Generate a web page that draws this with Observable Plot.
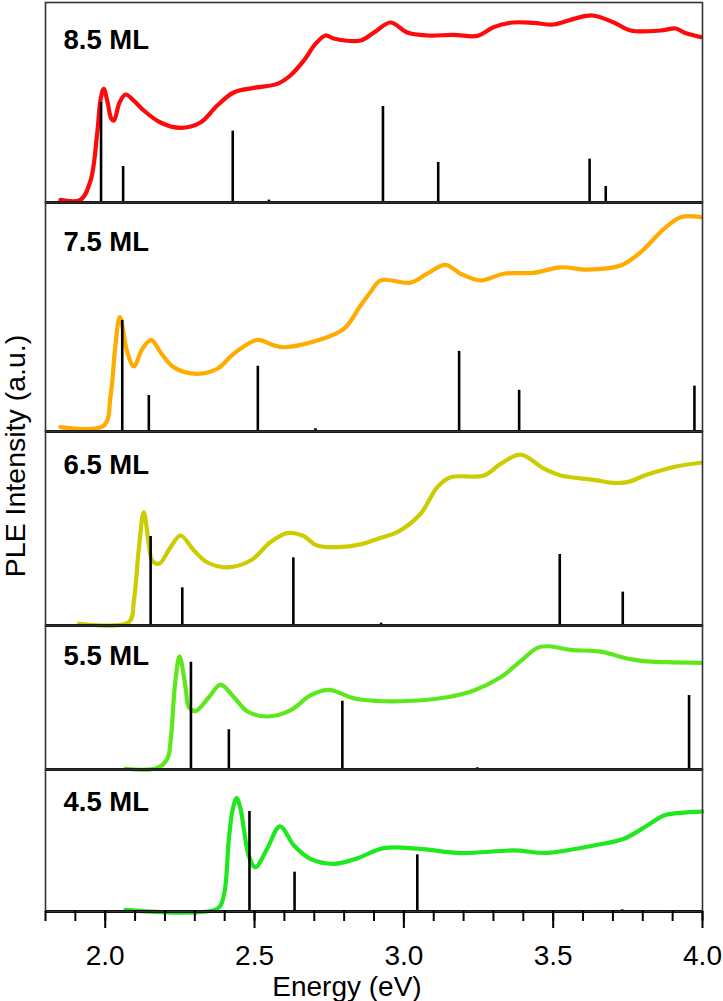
<!DOCTYPE html>
<html><head><meta charset="utf-8">
<script src="https://cdn.jsdelivr.net/npm/d3@7"></script>
<script src="https://cdn.jsdelivr.net/npm/@observablehq/plot@0.6"></script>
<style>
body{margin:0;background:#fff;}
#chart{position:relative;width:723px;height:1001px;overflow:hidden;}
#chart > svg, #chart > figure{display:block;margin:0;}
#ylab{position:absolute;left:0;top:0;pointer-events:none;}
</style></head><body>
<div id="chart"></div>
<script>
// ---------- data (energy in eV, intensity in a.u., normalised per panel) ----------
const panelLabels = ["8.5 ML", "7.5 ML", "6.5 ML", "5.5 ML", "4.5 ML"];

const ple85 = [[1.85,0.013],[1.917,0.013],[1.951,0.11],[1.973,0.345],[1.985,0.52],[1.995,0.568],[2.008,0.50],[2.02,0.42],[2.029,0.41],[2.048,0.50],[2.068,0.54],[2.095,0.51],[2.129,0.46],[2.185,0.40],[2.252,0.373],[2.319,0.40],[2.375,0.485],[2.43,0.55],[2.497,0.573],[2.576,0.593],[2.62,0.635],[2.665,0.71],[2.704,0.793],[2.738,0.835],[2.765,0.82],[2.855,0.81],[2.9,0.85],[2.955,0.90],[3.011,0.85],[3.078,0.835],[3.167,0.838],[3.246,0.833],[3.301,0.877],[3.368,0.90],[3.435,0.898],[3.502,0.89],[3.569,0.918],[3.631,0.935],[3.703,0.90],[3.759,0.86],[3.86,0.86],[3.91,0.87],[3.938,0.85],[3.995,0.827]];
const ple75 = [[1.85,0.019],[1.995,0.026],[2.018,0.157],[2.034,0.376],[2.049,0.50],[2.074,0.346],[2.096,0.285],[2.124,0.36],[2.154,0.40],[2.185,0.346],[2.23,0.28],[2.308,0.252],[2.375,0.274],[2.431,0.34],[2.509,0.40],[2.565,0.376],[2.598,0.368],[2.71,0.397],[2.799,0.448],[2.855,0.55],[2.888,0.608],[2.922,0.66],[3.022,0.65],[3.078,0.689],[3.139,0.728],[3.19,0.689],[3.257,0.66],[3.335,0.689],[3.435,0.693],[3.525,0.717],[3.614,0.707],[3.726,0.725],[3.793,0.783],[3.871,0.885],[3.927,0.936],[3.995,0.936]];
const ple65 = [[1.912,0.009],[2.079,0.017],[2.096,0.129],[2.112,0.387],[2.129,0.584],[2.146,0.42],[2.157,0.335],[2.18,0.318],[2.219,0.404],[2.252,0.464],[2.297,0.387],[2.341,0.326],[2.409,0.30],[2.487,0.335],[2.554,0.43],[2.609,0.476],[2.66,0.464],[2.71,0.412],[2.777,0.404],[2.855,0.418],[2.922,0.452],[2.978,0.481],[3.056,0.576],[3.112,0.713],[3.156,0.764],[3.268,0.773],[3.324,0.833],[3.391,0.881],[3.469,0.808],[3.525,0.773],[3.636,0.751],[3.703,0.735],[3.748,0.739],[3.815,0.778],[3.916,0.821],[3.995,0.839]];
const ple55 = [[2.068,0.005],[2.174,0.01],[2.208,0.074],[2.219,0.2],[2.235,0.618],[2.249,0.785],[2.269,0.572],[2.28,0.433],[2.302,0.405],[2.347,0.502],[2.386,0.59],[2.431,0.502],[2.475,0.405],[2.542,0.368],[2.62,0.41],[2.687,0.514],[2.749,0.553],[2.821,0.502],[2.855,0.486],[2.989,0.474],[3.145,0.502],[3.234,0.549],[3.324,0.641],[3.391,0.752],[3.447,0.845],[3.486,0.856],[3.558,0.831],[3.659,0.819],[3.737,0.776],[3.804,0.752],[3.882,0.745],[3.995,0.741]];
const ple45 = [[2.068,0.012],[2.375,0.019],[2.397,0.113],[2.414,0.512],[2.427,0.72],[2.44,0.798],[2.453,0.723],[2.464,0.582],[2.481,0.39],[2.503,0.312],[2.542,0.441],[2.585,0.599],[2.632,0.465],[2.687,0.371],[2.766,0.336],[2.832,0.366],[2.855,0.383],[2.933,0.446],[3.056,0.441],[3.19,0.411],[3.368,0.43],[3.48,0.413],[3.636,0.465],[3.737,0.512],[3.815,0.606],[3.871,0.676],[3.927,0.695],[3.999,0.704]];

const sticks85 = [[1.986,0.50],[2.06,0.18],[2.427,0.357],[2.548,0.012],[2.93,0.48],[3.115,0.20],[3.622,0.217],[3.676,0.08]];
const sticks75 = [[2.057,0.485],[2.146,0.157],[2.511,0.285],[2.704,0.012],[3.185,0.35],[3.386,0.18],[3.973,0.198]];
const sticks65 = [[2.152,0.459],[2.258,0.194],[2.63,0.349],[2.924,0.012],[3.522,0.366],[3.733,0.172]];
const sticks55 = [[2.287,0.745],[2.414,0.276],[2.794,0.474],[3.246,0.012],[3.955,0.514]];
const sticks45 = [[2.483,0.704],[2.634,0.277],[3.045,0.399],[3.731,0.012]];

const xMajorTicks = [2.0, 2.5, 3.0, 3.5, 4.0];
const xMinorTicks = [1.8, 1.9, 2.0, 2.1, 2.2, 2.3, 2.4, 2.5, 2.6, 2.7, 2.8, 2.9, 3.0, 3.1, 3.2, 3.3, 3.4, 3.5, 3.6, 3.7, 3.8, 3.9, 4.0];
const xTitle = "Energy (eV)";
const yTitle = "PLE Intensity (a.u.)";

// ---------- styling / layout ----------
const series = [ple85, ple75, ple65, ple55, ple45];
const sticks = [sticks85, sticks75, sticks65, sticks55, sticks45];
const colors = ["#ff0a0a", "#ffab00", "#cccc00", "#5ee81c", "#1ee81e"];
const panelHeights = [200, 229, 194, 144, 142];
const labelDy = [46, 48, 42, 39, 41];
const font = "'Liberation Sans', Arial, Helvetica, sans-serif";

const chart = document.getElementById("chart");

series.forEach((data, i) => {
  const last = i === series.length - 1;
  const marginTop = i === 0 ? 2 : 0;
  const marginBottom = last ? 90 : 0;
  const marks = [
    Plot.line(data, {x: d => d[0], y: d => d[1], stroke: colors[i], strokeWidth: 4.2, curve: "catmull-rom"}),
    Plot.ruleX(sticks[i], {x: d => d[0], y1: 0, y2: d => d[1], stroke: "#000", strokeWidth: 2.6}),
    Plot.ruleY([0], {stroke: "#000", strokeWidth: 2.8}),
    Plot.frame({stroke: "#333", strokeWidth: 1.6}),
    Plot.text([panelLabels[i]], {text: d => d, frameAnchor: "top-left", dx: 18, dy: labelDy[i], lineAnchor: "bottom", textAnchor: "start", fontWeight: "bold", fontSize: 27.5, fill: "#000"})
  ];
  if (last) {
    marks.push(Plot.axisX({ticks: xMinorTicks, tickSize: 10, tickFormat: () => "", label: null, strokeWidth: 2}));
    marks.push(Plot.axisX({ticks: xMajorTicks, tickSize: 17, tickPadding: 17, tickFormat: d3.format(".1f"), label: null, strokeWidth: 2, fontSize: 28}));
    marks.push(Plot.text([xTitle], {text: d => d, frameAnchor: "bottom", dx: -27, dy: 65, lineAnchor: "top", fontSize: 28, fill: "#000"}));
  }
  const p = Plot.plot({
    width: 723,
    height: marginTop + panelHeights[i] + marginBottom,
    marginLeft: 45,
    marginRight: 21,
    marginTop,
    marginBottom,
    x: last ? {domain: [1.8, 4.0]} : {domain: [1.8, 4.0], axis: null},
    y: {domain: [0, 1], axis: null},
    style: {fontFamily: font, fontSize: "28px", background: "transparent", overflow: "visible", color: "#000"},
    marks
  });
  chart.appendChild(p);
});

// rotated y-axis title spanning all panels
const ov = d3.select(chart).append("svg").attr("id", "ylab").attr("width", 723).attr("height", 1001);
ov.append("text")
  .attr("transform", "translate(25,456) rotate(-90)")
  .attr("text-anchor", "middle")
  .attr("font-family", font)
  .attr("font-size", 28.5)
  .attr("fill", "#000")
  .text(yTitle);
</script>
</body></html>
